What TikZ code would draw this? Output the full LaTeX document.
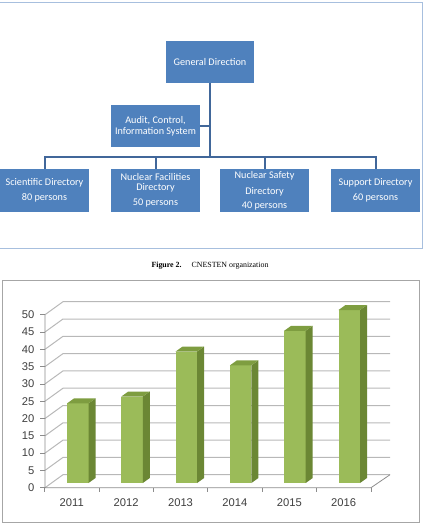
\documentclass[tikz,border=0pt]{standalone}
\usepackage{fontspec}
\setmainfont{Carlito}
\newfontfamily\capfont{Liberation Serif}
\newfontfamily\chartfont{Liberation Sans}
\definecolor{boxblue}{HTML}{4F81BD}
\definecolor{linkblue}{HTML}{41679A}
\definecolor{framebl}{HTML}{A7BFDE}
\definecolor{barfront}{HTML}{9BBB59}
\definecolor{barside}{HTML}{6B8734}
\definecolor{bartop}{HTML}{7E9D40}
\definecolor{gridgray}{HTML}{B8B8B8}
\definecolor{axisgray}{HTML}{8C8C8C}
\definecolor{labgray}{HTML}{3F3F3F}
\definecolor{chartframe}{HTML}{A6A6A6}
\newcommand\drawbar[2]{%
  \pgfmathsetmacro\ytop{483-#2*3.46}
  \fill[barfront] (#1,483) rectangle (#1+21.5,\ytop);
  \fill[barside] (#1+21.5,483) -- (#1+28.5,478) -- (#1+28.5,\ytop-5) -- (#1+21.5,\ytop) -- cycle;
  \fill[bartop] (#1,\ytop) -- (#1+7,\ytop-5) -- (#1+28.5,\ytop-5) -- (#1+21.5,\ytop) -- cycle;
}
\begin{document}
\begin{tikzpicture}[x=1pt,y=-1pt,
  orgbox/.style={fill=boxblue, text=white, draw=none, inner sep=0pt, align=center,
    font=\fontsize{10.2}{11}\selectfont},
  link/.style={draw=linkblue, line width=2pt},
  gridline/.style={draw=gridgray, line width=1pt},
  axisline/.style={draw=axisgray, line width=0.8pt},
  chartlab/.style={font=\chartfont\fontsize{11.2}{12}\selectfont, text=labgray, inner sep=0pt}]
\useasboundingbox (0,0) rectangle (429,526);
% ---------- org chart frame ----------
\draw[framebl, line width=1pt] (-2,3) -- (422,3) -- (422,248) -- (-2,248);
% ---------- org boxes ----------
\node[orgbox, minimum width=88pt, minimum height=42pt] (gd) at (210,62) {General Direction};
\node[orgbox, minimum width=89pt, minimum height=42pt] (audit) at (155.5,126) {Audit, Control,\\Information System};
\node[orgbox, minimum width=89pt, minimum height=43pt] (sci) at (44.5,190.5) {Scientific Directory\\[4pt]80 persons};
\node[orgbox, minimum width=89pt, minimum height=43pt] (nfd) at (155.5,190.5) {Nuclear Facilities\\[-1pt]Directory\\[4pt]50 persons};
\node[orgbox, minimum width=89pt, minimum height=43pt] (nsd) at (264.5,190.5) {Nuclear Safety\\[5pt]Directory\\[3pt]40 persons};
\node[orgbox, minimum width=89pt, minimum height=43pt] (sup) at (375.5,190.5) {Support Directory\\[4pt]60 persons};
\coordinate (bus) at (210,157.5);
\draw[link] (gd.south) -- (bus);
\draw[link] (audit.east) -- (audit.east -| bus);
\draw[link] (sci.north) |- (bus) -| (sup.north);
\draw[link] (nfd.north) -- (nfd.north |- bus);
\draw[link] (nsd.north) -- (nsd.north |- bus);
% ---------- caption ----------
\node[font=\capfont\fontsize{7.9}{9}\selectfont, inner sep=0pt] (cap) at (210,266)
  {\textbf{Figure 2.}\hspace{10pt}CNESTEN organization};
% ---------- chart frame ----------
\draw[chartframe, line width=1pt] (2,280) rectangle (419,522);
% ---------- grid ----------
\foreach \k in {0,...,10}{
  \pgfmathsetmacro\yb{474.7-\k*17.3}
  \pgfmathtruncatemacro\lab{\k*5}
  \draw[gridline] (45,\yb+13) -- (63,\yb) -- (390,\yb);
  \draw[axisline] (40,\yb+13) -- (45,\yb+13);
  \node[chartlab, anchor=east] (ylab\k) at (34.5,\yb+13) {\lab};
}
\draw[axisline] (45,314.7) -- (45,487.7) -- (371,487.7) -- (390,474.7);
\foreach \k in {0,...,6}{
  \draw[axisline] (44.5+\k*54.4,487.7) -- (44.5+\k*54.4,492);
}
% ---------- bars ----------
\drawbar{67}{23}
\drawbar{121.3}{25}
\drawbar{175.6}{38}
\drawbar{229.9}{34}
\drawbar{284.2}{44}
\drawbar{338.5}{50}
% ---------- year labels ----------
\foreach \yr [count=\i from 0] in {2011,2012,2013,2014,2015,2016}{
  \node[chartlab] (yr\yr) at (71.7+\i*54.4,503) {\yr};
}
\end{tikzpicture}
\end{document}
